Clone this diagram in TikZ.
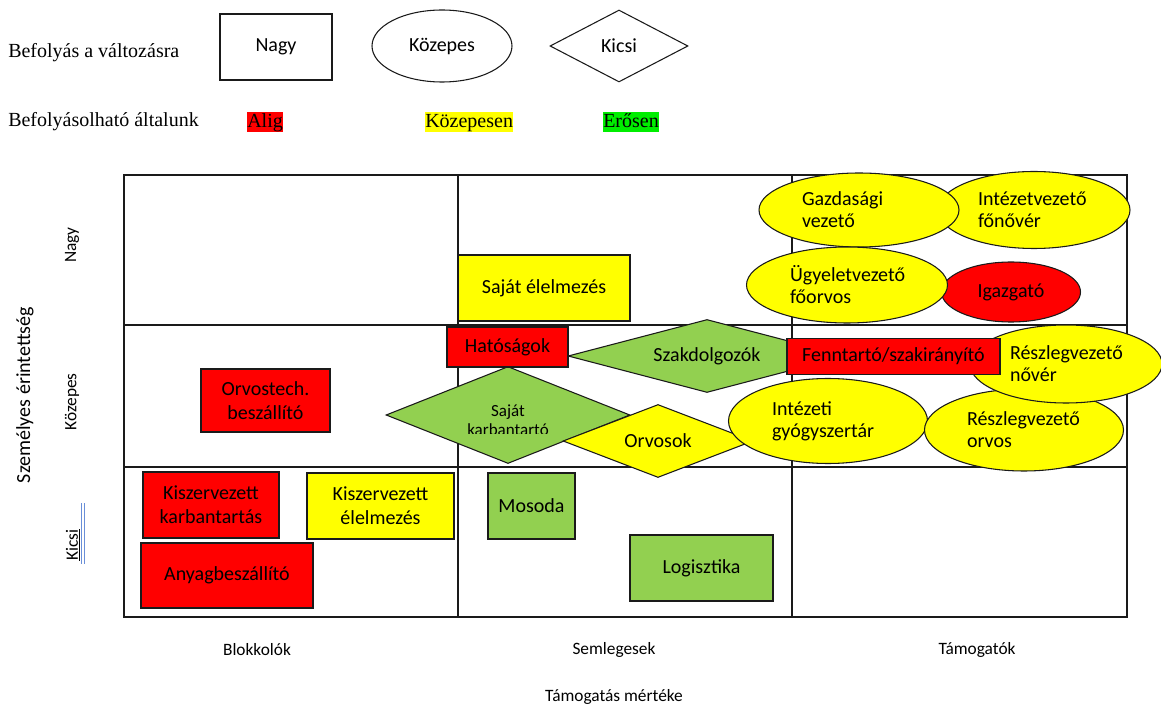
\documentclass[tikz,border=0pt]{standalone}
\usepackage{fontspec}
\setmainfont{Carlito}
\newfontfamily\serifface{Liberation Serif}
\usetikzlibrary{shapes.geometric}
\definecolor{rd}{HTML}{FF0000}
\definecolor{yl}{HTML}{FFFF00}
\definecolor{gn}{HTML}{92D050}
\definecolor{brightgreen}{HTML}{00EE00}
\definecolor{edge}{HTML}{1A1A1A}
\definecolor{markblue}{HTML}{6A8FD8}

\tikzset{
  sz/.style 2 args={minimum width=#1*0.75pt, minimum height=#2*0.75pt},
  base/.style={draw=edge, line width=0.8pt, inner sep=0pt, text=black,
               font=\fontsize{15}{18}\selectfont},
  box/.style={base, rectangle, align=center},
  oval/.style={base, ellipse, align=left, font=\fontsize{15}{16.5}\selectfont},
  dia/.style={base, diamond},
  lbl/.style={inner sep=0pt, align=center, font=\fontsize{15}{17}\selectfont},
  axis/.style={inner sep=0pt, font=\fontsize{13}{15}\selectfont},
  serifT/.style={inner sep=0pt, font=\serifface\fontsize{15}{17}\selectfont},
  hilite/.style={serifT, inner xsep=0pt, text height=11.5pt, text depth=3.5pt},
  gridline/.style={draw=edge, line width=0.9pt},
}

\begin{document}
\begin{tikzpicture}[x=0.75pt,y=-0.75pt]
\useasboundingbox (0,0) rectangle (1161,709);

% ---- legend ----
\node[serifT, anchor=west] (legA) at (8,53) {Befolyás a változásra};
\node[box, sz={112}{66}] (legNagy) at (276,47) {Nagy};
\node[base, ellipse, sz={140}{72}] (legKoz) at (442,46) {Közepes};
\node[dia, sz={138}{72}] (legKicsi) at (619,46) {};
\node[lbl] (legKicsiT) at (legKicsi) {Kicsi};

\node[serifT, anchor=west] (legB) at (8,122) {Befolyásolható általunk};
\node[hilite, fill=rd, anchor=west] (legAlig) at (247,122) {Alig};
\node[hilite, fill=yl, anchor=west] (legKozep) at (425,122) {Közepesen};
\node[hilite, fill=brightgreen, anchor=west] (legEros) at (603,122) {Erősen};

% ---- grid ----
\draw[gridline] (124,175) rectangle (1127,617);
\draw[gridline] (458,175) -- (458,617);
\draw[gridline] (792,175) -- (792,617);
\draw[gridline] (124,325) -- (1127,325);
\draw[gridline] (124,467) -- (1127,467);

% ---- axis labels ----
\node[axis] (colB) at (257,650) {Blokkolók};
\node[axis] (colS) at (614,650) {Semlegesek};
\node[axis] (colT) at (977,650) {Támogatók};
\node[axis] (xTitle) at (614,697) {Támogatás mértéke};
\node[axis, rotate=90] (rowN) at (72,245) {Nagy};
\node[axis, rotate=90] (rowK) at (72,402) {Közepes};
\node[axis, rotate=90] (rowKi) at (72,545) {Kicsi};
\node[axis, rotate=90, font=\fontsize{15}{17}\selectfont] (yTitle) at (25,395) {Személyes érintettség};
% underline and double spell-mark beside "Kicsi"
\draw[black, line width=0.5pt] (rowKi.south west) ++(0.6,0) coordinate (ulA) -- (rowKi.south east -| ulA);
\draw[markblue, line width=0.6pt] (81.5,503) -- (81.5,564);
\draw[markblue, line width=0.6pt] (84,503) -- (84,564);

% ---- upper band ----
\node[oval, fill=yl, sz={192}{77}, text width=84pt] (ivf) at (1034,210) {Intézetvezető\\főnővér};
\node[oval, fill=yl, sz={200}{74}, text width=85.5pt] (gv) at (859,210) {Gazdasági\\vezető};
\node[base, ellipse, fill=rd, sz={139}{60}] (igaz) at (1011,292) {Igazgató};
\node[oval, fill=yl, sz={201}{76}, text width=85.5pt] (ugy) at (847,285) {Ügyeletvezető\\főorvos};
\node[box, fill=yl, sz={172}{66}] (sel) at (544,288) {Saját élelmezés};

% ---- middle band ----
\node[box, fill=rd, sz={129}{63}] (ortech) at (265.5,400.5) {Orvostech.\\beszállító};
\node[dia, fill=gn, sz={244}{97}] (skarb) at (508,415) {};
\begin{scope}
  \clip (386,367) rectangle (630,433);
  \node[inner sep=0pt, align=center, font=\fontsize{12.75}{14.5}\selectfont] (skarbT) at (508,420) {Saját\\karbantartó};
\end{scope}
\node[dia, fill=yl, sz={190}{73}] (orv) at (658,441) {};
\node[lbl] (orvT) at (orv) {Orvosok};
\node[dia, fill=gn, sz={278}{73}] (szak) at (707,356) {};
\node[lbl] (szakT) at (szak) {Szakdolgozók};
\node[box, fill=rd, sz={121}{40}] (hat) at (507.5,347) {Hatóságok};
\node[oval, fill=yl, sz={199}{85}, text width=84pt] (gyogy) at (828,421) {Intézeti\\gyógyszertár};
\node[oval, fill=yl, sz={199}{82}, text width=85.5pt] (rvo) at (1024,430) {Részlegvezető\\orvos};
\node[oval, fill=yl, sz={192}{78}, text width=84pt] (rvn) at (1066,364) {Részlegvezető\\nővér};
\node[box, fill=rd, sz={213}{36}] (fennt) at (893.5,356.5) {Fenntartó/szakirányító};

% ---- lower band ----
\node[box, fill=rd, sz={136}{66}] (kkarb) at (211,505) {Kiszervezett\\karbantartás};
\node[box, fill=yl, sz={147}{66}] (kelm) at (380.5,506) {Kiszervezett\\élelmezés};
\node[box, fill=rd, sz={172}{65}] (anyag) at (227,575.5) {Anyagbeszállító};
\node[box, fill=gn, sz={87}{66}] (mos) at (531.5,506) {Mosoda};
\node[box, fill=gn, sz={143}{66}] (logi) at (701.5,568) {Logisztika};
\end{tikzpicture}
\end{document}
